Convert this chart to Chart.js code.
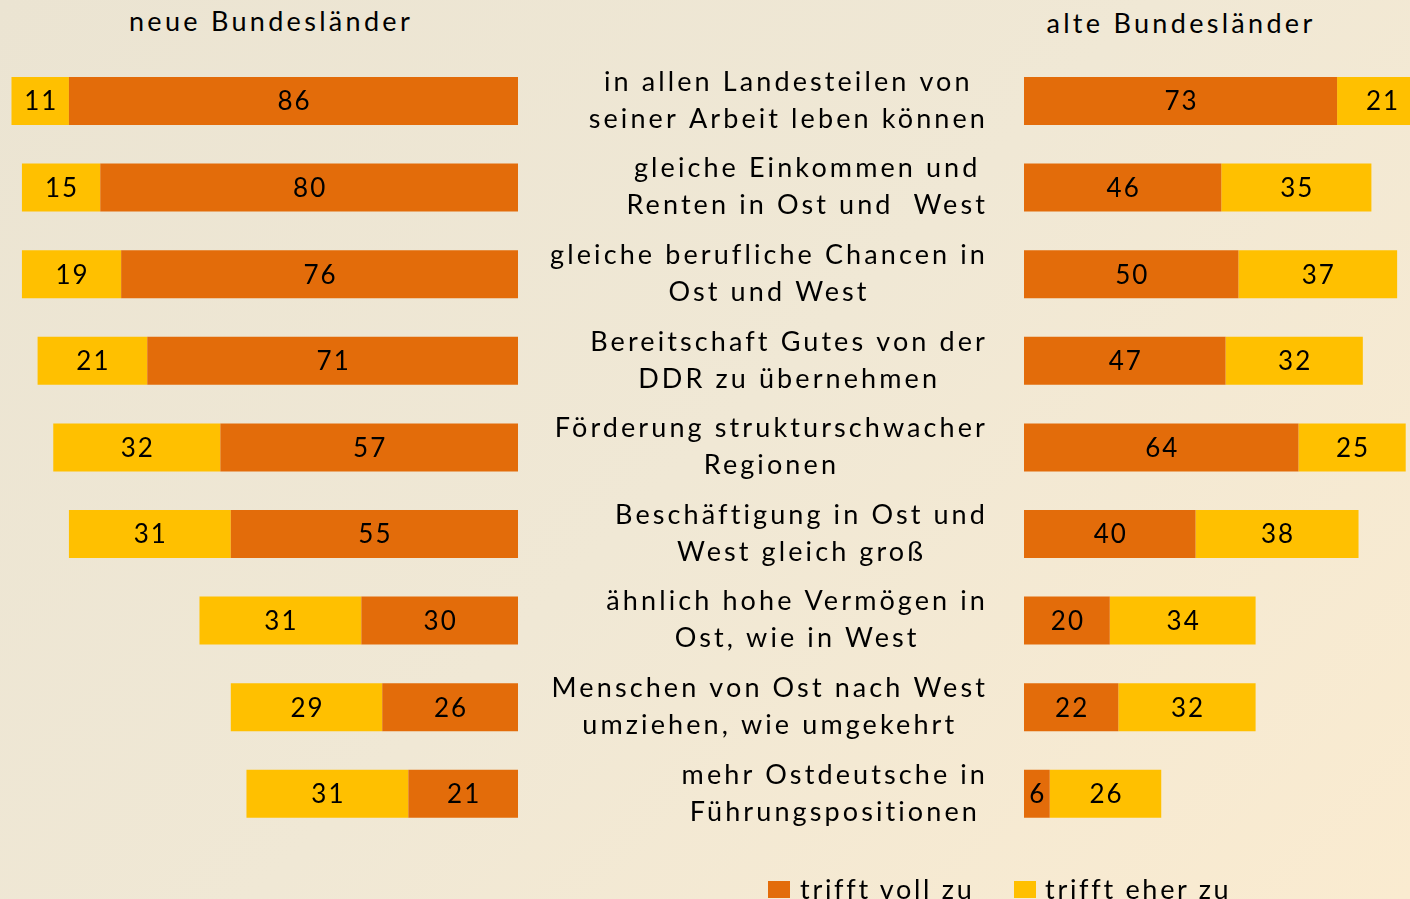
<!DOCTYPE html>
<html>
<head>
<meta charset="utf-8">
<script src="https://cdn.jsdelivr.net/npm/chart.js@4"></script>
<style>
  html, body { margin: 0; padding: 0; }
  body {
    width: 1410px; height: 899px; overflow: hidden; position: relative;
    background: linear-gradient(135deg, #ebe4d2 0%, #f0e8d5 50%, #faebd0 100%);
    font-family: Lato, sans-serif; color: #000;
  }
  .title { position: absolute; font-size: 27px; letter-spacing: 3.3px; white-space: nowrap; transform: translateX(-50%); line-height: 27px; }
  #leftWrap { position: absolute; left: 0; top: 0; width: 518px; height: 899px; }
  #rightWrap { position: absolute; left: 520px; top: 0; width: 890px; height: 899px; }
  .legend { position: absolute; top: 875px; font-size: 27px; letter-spacing: 2.7px; line-height: 27px; white-space: nowrap; }
  .legend i { position: absolute; top: 6px; width: 22px; height: 17px; }
</style>
</head>
<body>
<div class="title" style="left:271px; top:7px;">neue Bundesländer</div>
<div class="title" style="left:1181px; top:9px;">alte Bundesländer</div>
<div id="leftWrap"><canvas id="leftChart"></canvas></div>
<div id="rightWrap"><canvas id="rightChart"></canvas></div>
<div class="legend" style="left:768px;"><i style="left:0; background:#e36c0a;"></i><span style="margin-left:32px;">trifft voll zu</span></div>
<div class="legend" style="left:1014px;"><i style="left:0; background:#ffc000;"></i><span style="margin-left:31px;">trifft eher zu</span></div>
<script>
const categories = [
    ["in allen Landesteilen von", "seiner Arbeit leben können"],
    ["gleiche Einkommen und", "Renten in Ost und  West"],
    ["gleiche berufliche Chancen in", "Ost und West"],
    ["Bereitschaft Gutes von der", "DDR zu übernehmen"],
    ["Förderung strukturschwacher", "Regionen"],
    ["Beschäftigung in Ost und", "West gleich groß"],
    ["ähnlich hohe Vermögen in", "Ost, wie in West"],
    ["Menschen von Ost nach West", "umziehen, wie umgekehrt"],
    ["mehr Ostdeutsche in", "Führungspositionen"]
];
const seriesNames = ["trifft voll zu", "trifft eher zu"];
const neueVoll = [86, 80, 76, 71, 57, 55, 30, 26, 21];
const neueEher = [11, 15, 19, 21, 32, 31, 31, 29, 31];
const alteVoll = [73, 46, 50, 47, 64, 40, 20, 22, 6];
const alteEher = [21, 35, 37, 32, 25, 38, 34, 32, 26];

const ORANGE = '#e36c0a';
const YELLOW = '#ffc000';
const FONT = 'Lato, sans-serif';

// numbers inside each bar segment
const valueLabels = {
    id: 'valueLabels',
    afterDatasetsDraw(chart) {
        const ctx = chart.ctx;
        ctx.save();
        ctx.font = '26px ' + FONT;
        ctx.letterSpacing = '2px';
        ctx.fillStyle = '#000';
        ctx.textAlign = 'center';
        ctx.textBaseline = 'middle';
        chart.data.datasets.forEach((ds, i) => {
            chart.getDatasetMeta(i).data.forEach((bar, j) => {
                const p = bar.getProps(['x', 'y', 'base'], true);
                ctx.fillText(String(ds.data[j]), (p.x + p.base) / 2 + 1, p.y + 1);
            });
        });
        ctx.restore();
    }
};

// category texts between the two charts (block right edge at page x 986)
const centerLabels = {
    id: 'centerLabels',
    afterDraw(chart) {
        const ctx = chart.ctx;
        const yScale = chart.scales.y;
        const rightEdge = 988 - 520;
        ctx.save();
        ctx.font = '27px ' + FONT;
        ctx.letterSpacing = '3.1px';
        ctx.fillStyle = '#000';
        ctx.textAlign = 'center';
        ctx.textBaseline = 'middle';
        categories.forEach((lines, i) => {
            const y = yScale.getPixelForValue(i);
            const maxW = Math.max(...lines.map(l => ctx.measureText(l).width));
            const cx = rightEdge - maxW / 2;
            ctx.fillText(lines[0], cx, y - 19);
            ctx.fillText(lines[1], cx, y + 18);
        });
        ctx.restore();
    }
};

function makeOptions(reverse, max, padLeft) {
    return {
        indexAxis: 'y',
        responsive: true,
        maintainAspectRatio: false,
        animation: false,
        layout: { padding: { top: 57.7, bottom: 61.9, left: padLeft, right: 0 } },
        plugins: { legend: { display: false }, tooltip: { enabled: false } },
        scales: {
            x: { stacked: true, display: false, min: 0, max: max, reverse: reverse },
            y: { stacked: true, display: false }
        }
    };
}

new Chart(document.getElementById('leftChart'), {
    type: 'bar',
    data: {
        labels: categories,
        datasets: [
            { label: seriesNames[0], data: neueVoll, backgroundColor: ORANGE, categoryPercentage: 1, barPercentage: 0.554 },
            { label: seriesNames[1], data: neueEher, backgroundColor: YELLOW, categoryPercentage: 1, barPercentage: 0.554 }
        ]
    },
    options: makeOptions(true, 99.2, 0),
    plugins: [valueLabels]
});

new Chart(document.getElementById('rightChart'), {
    type: 'bar',
    data: {
        labels: categories,
        datasets: [
            { label: seriesNames[0], data: alteVoll, backgroundColor: ORANGE, categoryPercentage: 1, barPercentage: 0.554 },
            { label: seriesNames[1], data: alteEher, backgroundColor: YELLOW, categoryPercentage: 1, barPercentage: 0.554 }
        ]
    },
    options: makeOptions(false, 90, 504),
    plugins: [valueLabels, centerLabels]
});
</script>
</body>
</html>
